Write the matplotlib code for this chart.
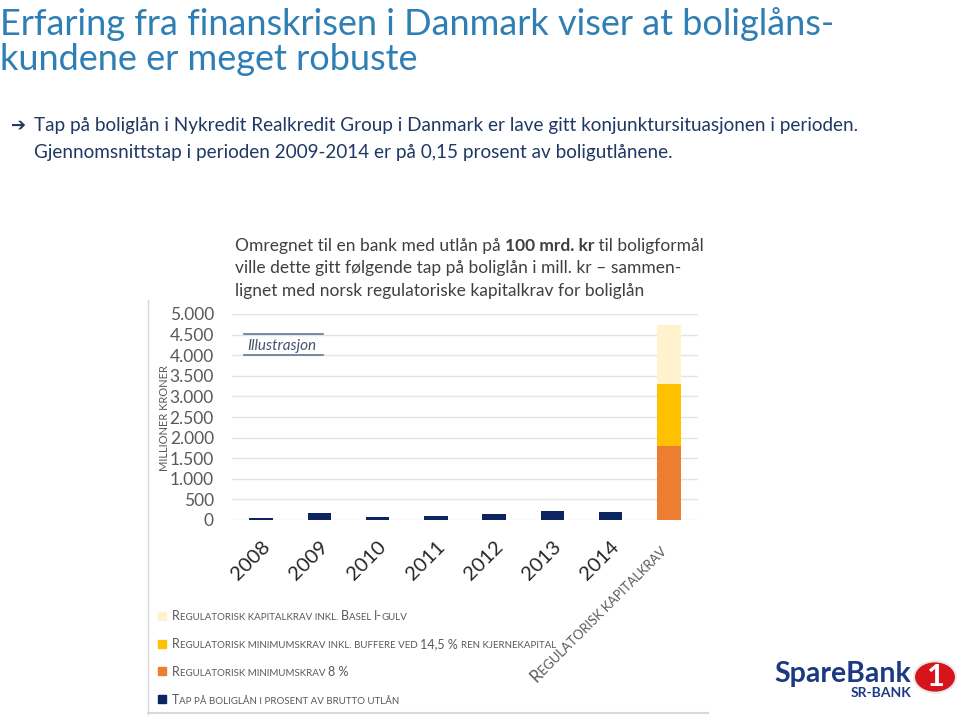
import matplotlib
matplotlib.use('Agg')
import matplotlib.pyplot as plt
from matplotlib.patches import Rectangle, Circle
import numpy as np

plt.rcParams['font.family'] = ['Lato', 'DejaVu Sans']

years = ['2008', '2009', '2010', '2011', '2012', '2013', '2014']
tap = [50, 180, 80, 95, 140, 210, 195]
# stacked bar: regulatorisk kapitalkrav
min8 = 1800
buffer_145 = 1500
basel_gulv = 1430
yticks = [0, 500, 1000, 1500, 2000, 2500, 3000, 3500, 4000, 4500, 5000]
ytick_labels = ['0', '500', '1.000', '1.500', '2.000', '2.500', '3.000',
                '3.500', '4.000', '4.500', '5.000']
legend_labels = ['Regulatorisk kapitalkrav inkl. Basel I-gulv',
                 'Regulatorisk minimumskrav inkl. buffere ved 14,5 % ren kjernekapital',
                 'Regulatorisk minimumskrav 8 %',
                 'Tap på boliglån i prosent av brutto utlån']

NAVY = '#0C2461'
ORANGE = '#ED7D31'
YELLOW = '#FFC000'
CREAM = '#FFF2CC'
GREY = '#595959'
legend_colors = [CREAM, YELLOW, ORANGE, NAVY]

W, H = 960, 716
fig = plt.figure(figsize=(9.6, 7.16), dpi=100)


def fx(x):
    return x / W


def fy(y):
    return 1 - y / H


renderer = fig.canvas.get_renderer()


def draw_runs(x, y, runs, angle=0):
    # draws pieces of text one after another (pixel coords, y from top)
    a = np.deg2rad(angle)
    px, py = x, y
    for txt, kw in runs:
        t = fig.text(fx(px), fy(py), txt, ha='left', va='baseline',
                     rotation=angle, rotation_mode='anchor', **kw)
        t.set_rotation(0)
        w = t.get_window_extent(renderer).width
        t.set_rotation(angle)
        px += w * np.cos(a)
        py -= w * np.sin(a)


def small_caps(s, big, small, **kw):
    runs = []
    cur, cur_small = '', None
    for ch in s:
        if not ch.isalnum() and ch != '%':
            cur += ch
            continue
        is_small = ch.islower()
        if cur_small is None:
            cur_small = is_small
        if is_small != cur_small:
            runs.append((cur, dict(fontsize=small if cur_small else big, **kw)))
            cur, cur_small = '', is_small
        cur += ch.upper()
    if cur:
        runs.append((cur, dict(fontsize=small if cur_small else big, **kw)))
    return runs


# title and bullet text
title_col = '#2F7FB5'
fig.text(fx(0), fy(35), 'Erfaring fra finanskrisen i Danmark viser at boliglåns-',
         fontsize=26, color=title_col, va='baseline')
fig.text(fx(0), fy(70), 'kundene er meget robuste',
         fontsize=26, color=title_col, va='baseline')
txt_col = '#1F3864'
fig.text(fx(11), fy(131), '➔', fontsize=13, color=txt_col, va='baseline',
         family=['DejaVu Sans'])
fig.text(fx(34), fy(131),
         'Tap på boliglån i Nykredit Realkredit Group i Danmark er lave gitt konjunktursituasjonen i perioden.',
         fontsize=13.6, color=txt_col, va='baseline')
fig.text(fx(34), fy(158),
         'Gjennomsnittstap i perioden 2009-2014 er på 0,15 prosent av boligutlånene.',
         fontsize=13.6, color=txt_col, va='baseline')

# frame lines around chart area (left and bottom)
fc = '#D9D9D9'
fig.lines.append(plt.Line2D([fx(148), fx(148)], [fy(300), fy(714)],
                            transform=fig.transFigure, color=fc, linewidth=1))
fig.lines.append(plt.Line2D([fx(148), fx(708)], [fy(713), fy(713)],
                            transform=fig.transFigure, color=fc, linewidth=1.5))

# explanatory text
tc = '#404040'
fs = 12.5
draw_runs(235, 251, [('Omregnet til en bank med utlån på ', dict(fontsize=fs, color=tc)),
                     ('100 mrd. kr', dict(fontsize=fs, color=tc, fontweight='bold')),
                     (' til boligformål', dict(fontsize=fs, color=tc))])
fig.text(fx(235), fy(273), 'ville dette gitt følgende tap på boliglån i mill. kr – sammen-',
         fontsize=fs, color=tc, va='baseline')
fig.text(fx(235), fy(296), 'lignet med norsk regulatoriske kapitalkrav for boliglån',
         fontsize=fs, color=tc, va='baseline')

# chart
ax = fig.add_axes([fx(232), fy(520), fx(698) - fx(232), fy(314) - fy(520)])
x = np.arange(len(years) + 1)
bw = 0.4
ax.bar(x[:-1], tap, width=bw, color=NAVY, zorder=3)
ax.bar(x[-1], min8, width=bw, color=ORANGE, zorder=3)
ax.bar(x[-1], buffer_145, width=bw, bottom=min8, color=YELLOW, zorder=3)
ax.bar(x[-1], basel_gulv, width=bw, bottom=min8 + buffer_145, color=CREAM, zorder=3)
ax.set_xlim(-0.5, len(x) - 0.5)
ax.set_ylim(0, 5000)
ax.set_yticks(yticks)
ax.set_yticklabels(ytick_labels, fontsize=12.5, color=GREY)
ax.yaxis.grid(True, color='#E3E3E3', linewidth=1, zorder=0)
ax.tick_params(axis='y', length=0, pad=13)
ax.set_xticks(x[:-1])
ax.set_xticklabels(years, rotation=45, ha='right', rotation_mode='anchor',
                   fontsize=14.5, color='#262626')
ax.tick_params(axis='x', length=0, pad=13)
for s in ax.spines.values():
    s.set_visible(False)

fig.text(fx(165), fy(418), 'MILLIONER KRONER', rotation=90, fontsize=8,
         color=GREY, ha='center', va='center')

# rotated category label for last bar
draw_runs(537, 683, small_caps('Regulatorisk kapitalkrav', 12, 9.3, color=GREY), angle=45)

# illustrasjon box
ic = '#5B7897'
fig.lines.append(plt.Line2D([fx(244), fx(323)], [fy(334), fy(334)],
                            transform=fig.transFigure, color=ic, linewidth=1.2))
fig.lines.append(plt.Line2D([fx(244), fx(323)], [fy(355), fy(355)],
                            transform=fig.transFigure, color=ic, linewidth=1.2))
fig.text(fx(247), fy(350), 'Illustrasjon', fontsize=11, style='italic',
         color='#44546A', va='baseline')

# legend
for i, (lab, col) in enumerate(zip(legend_labels, legend_colors)):
    yc = 616 + i * 27.7
    fig.patches.append(Rectangle((fx(158), fy(yc + 4)), fx(8), fy(0) - fy(8),
                                 transform=fig.transFigure, color=col))
    draw_runs(172, yc + 4.5, small_caps(lab, 9, 7, color=GREY))

# logo
fig.text(fx(774), fy(682), 'SpareBank', fontsize=20.5, fontweight='bold',
         color='#1B3A82', va='baseline')
fig.text(fx(911), fy(697), 'SR-BANK', fontsize=10, fontweight='bold',
         color='#1B3A82', va='baseline', ha='right')
fig.patches.append(Circle((fx(935), fy(677)), 21 / W, transform=fig.transFigure,
                          facecolor='#D7131B', edgecolor='#E8E8E8', linewidth=1.5))
fig.text(fx(936), fy(677), '1', fontsize=22, fontweight='bold', color='white',
         ha='center', va='center')

fig.savefig('out.png', dpi=100)
